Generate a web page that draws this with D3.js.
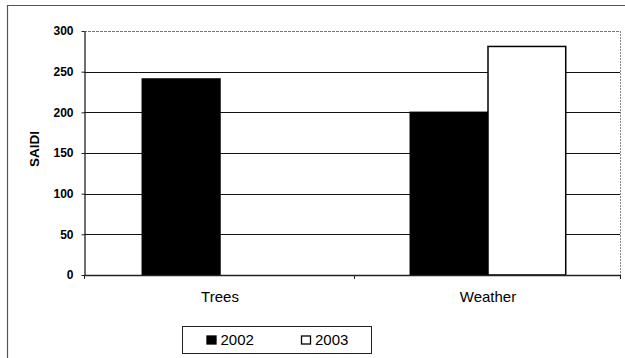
<!DOCTYPE html>
<html>
<head>
<meta charset="utf-8">
<script src="https://cdn.jsdelivr.net/npm/d3@7"></script>
<style>
  html, body { margin: 0; padding: 0; background: #fff; }
  svg { display: block; font-family: Arial, "Liberation Sans", sans-serif; }
</style>
</head>
<body>
<svg id="chart" width="625" height="358"></svg>
<script>
// SAIDI by cause, 2002 vs 2003
const categories = ["Trees", "Weather"];
const seriesNames = ["2002", "2003"];
const values2002 = [241, 200];
const values2003 = [0, 281];
const yTicks = [0, 50, 100, 150, 200, 250, 300];
const yLabel = "SAIDI";

const series = [
  { name: seriesNames[0], values: values2002, fill: "#000", stroke: "#000" },
  { name: seriesNames[1], values: values2003, fill: "#fff", stroke: "#000" }
];

const svg = d3.select("#chart");
const W = 625, H = 358;
const plot = { left: 84, right: 620, top: 31, bottom: 275 };

// outer chart frame (top and left edges fall inside the view)
svg.append("path")
  .attr("d", `M7.5,${H} V5.5 H${W}`)
  .attr("fill", "none")
  .attr("stroke", "#555")
  .attr("stroke-width", 1.2);

const y = d3.scaleLinear().domain([0, 300]).range([plot.bottom, plot.top]);
const x = d3.scaleBand().domain(categories).range([plot.left + 2, plot.right + 2])
  .paddingInner(0.42).paddingOuter(0.21);
const xs = d3.scaleBand().domain(seriesNames).range([0, x.bandwidth()]);

// horizontal gridlines
svg.append("g").selectAll("line")
  .data(yTicks.filter(d => d > 0))
  .join("line")
  .attr("x1", plot.left).attr("x2", plot.right)
  .attr("y1", d => Math.round(y(d)) + 0.5).attr("y2", d => Math.round(y(d)) + 0.5)
  .attr("stroke", d => d === 300 ? "#777" : "#111")
  .attr("stroke-dasharray", d => d === 300 ? "3,1" : null)
  .attr("stroke-width", 1);

// right edge of plot area
svg.append("line")
  .attr("x1", plot.right + 0.5).attr("x2", plot.right + 0.5)
  .attr("y1", plot.top).attr("y2", plot.bottom)
  .attr("stroke", "#888").attr("stroke-dasharray", "2,1");

// bars
const groups = svg.append("g").selectAll("g")
  .data(categories)
  .join("g")
  .attr("transform", d => `translate(${x(d)},0)`);

series.forEach(s => {
  groups.append("rect")
    .filter((d, i) => s.values[i] > 0)
    .attr("x", () => xs(s.name))
    .attr("width", xs.bandwidth())
    .attr("y", (d) => y(s.values[categories.indexOf(d)]))
    .attr("height", (d) => plot.bottom - y(s.values[categories.indexOf(d)]))
    .attr("fill", s.fill)
    .attr("stroke", s.stroke)
    .attr("stroke-width", 1.5);
});

// y axis
const yAxis = d3.axisLeft(y).tickValues(yTicks).tickSize(3).tickPadding(8).tickSizeOuter(0);
const gy = svg.append("g").attr("transform", `translate(${plot.left + 0.5},0)`).call(yAxis);
gy.select(".domain").attr("stroke", "#222").attr("stroke-width", 1.3);
gy.selectAll(".tick line").attr("stroke", "#222");
gy.selectAll(".tick text")
  .attr("font-size", 12).attr("font-weight", "bold")
  .attr("font-family", "Arial, 'Liberation Sans', sans-serif")
  .attr("fill", "#000");

// x axis baseline with ticks between categories
svg.append("line")
  .attr("x1", plot.left).attr("x2", plot.right + 1)
  .attr("y1", plot.bottom + 0.5).attr("y2", plot.bottom + 0.5)
  .attr("stroke", "#222").attr("stroke-width", 1.3);
const step = x.step();
const boundaries = [plot.left, (x(categories[0]) + x(categories[1]) + x.bandwidth()) / 2, plot.right];
svg.append("g").selectAll("line")
  .data(boundaries)
  .join("line")
  .attr("x1", d => Math.round(d) + 0.5).attr("x2", d => Math.round(d) + 0.5)
  .attr("y1", plot.bottom).attr("y2", plot.bottom + 4)
  .attr("stroke", "#222");

// category labels
svg.append("g").selectAll("text")
  .data(categories)
  .join("text")
  .attr("x", d => x(d) + x.bandwidth() / 2)
  .attr("y", 301.5)
  .attr("text-anchor", "middle")
  .attr("font-size", 15)
  .attr("fill", "#000")
  .text(d => d);

// y axis title
svg.append("text")
  .attr("transform", "translate(39,149) rotate(-90)")
  .attr("text-anchor", "middle")
  .attr("font-size", 13.5)
  .attr("font-weight", "bold")
  .attr("fill", "#000")
  .text(yLabel);

// legend
const legend = svg.append("g");
legend.append("rect")
  .attr("x", 182.5).attr("y", 326.5).attr("width", 189).attr("height", 27)
  .attr("fill", "#fff").attr("stroke", "#222").attr("stroke-width", 1);
const legendX = [207, 301.5];
series.forEach((s, i) => {
  legend.append("rect")
    .attr("x", legendX[i]).attr("y", 336)
    .attr("width", 9).attr("height", 8)
    .attr("fill", s.fill).attr("stroke", s.stroke).attr("stroke-width", 1.3);
  legend.append("text")
    .attr("x", legendX[i] + 13.5).attr("y", 344.5)
    .attr("font-size", 15)
    .attr("fill", "#000")
    .text(s.name);
});
</script>
</body>
</html>
